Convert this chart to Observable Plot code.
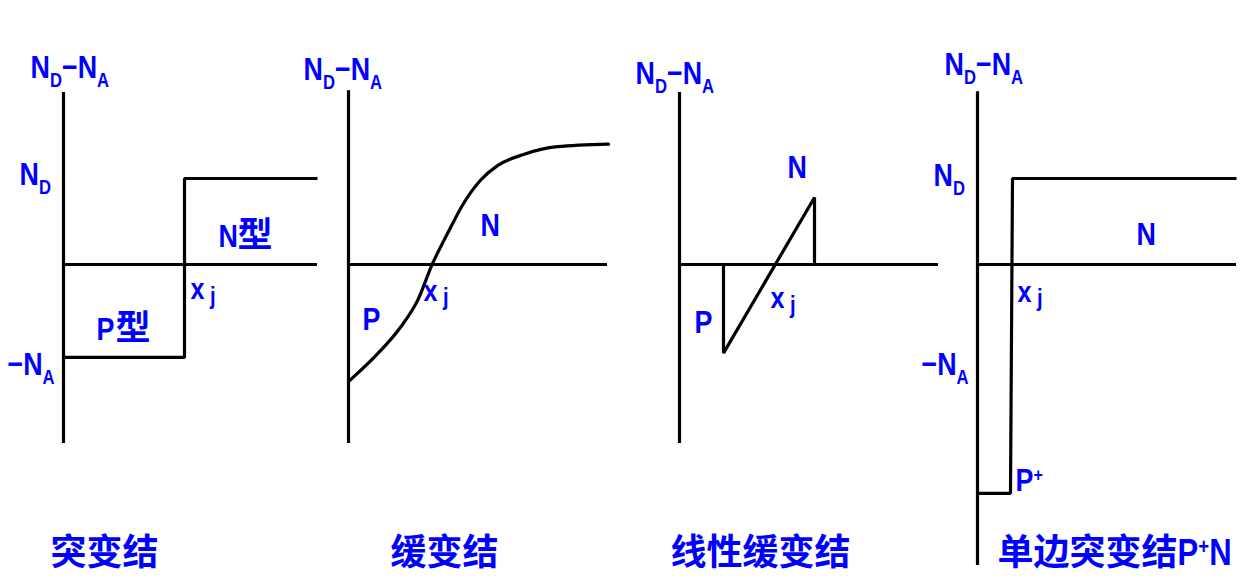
<!DOCTYPE html>
<html>
<head>
<meta charset="utf-8">
<script src="https://cdn.jsdelivr.net/npm/d3@7"></script>
<script src="https://cdn.jsdelivr.net/npm/@observablehq/plot@0.6"></script>
<style>
  html, body { margin: 0; padding: 0; background: #fff; }
  #chart { width: 1256px; height: 583px; }
  #chart text { font-family: "Liberation Sans", Arial, "Noto Sans CJK SC", sans-serif; }
  #chart text.cjk { font-family: "Noto Sans CJK SC", sans-serif; }
</style>
</head>
<body>
<div id="chart"></div>
<script>
// ---- Data (depth in arbitrary units, doping N_D - N_A in units of N_D) ----
const panelNames   = ["abrupt", "graded", "linear", "oneSided"];
const panelTitles  = ["突变结", "缓变结", "线性缓变结", "单边突变结"];
const panelOrigin  = [0.63, 3.48, 6.79, 9.77];   // depth origin of each panel
const axisTop      = [2.00, 2.02, 2.00, 2.01];
const axisBottom   = [-2.08, -2.08, -2.08, -3.50];
const zeroLength   = [2.54, 2.59, 2.59, 2.59];

// 突变结 (abrupt junction)
const abruptX = [0, 1.21, 1.21, 2.54];
const abruptY = [-1.08, -1.08, 1.00, 1.00];
// 缓变结 (graded junction)
const gradedX = [0.01, 0.29, 0.52, 0.69, 0.84, 0.99, 1.15, 1.32, 1.49, 1.75, 2.09, 2.60];
const gradedY = [-1.35, -1.04, -0.73, -0.42, 0.01, 0.36, 0.71, 0.98, 1.15, 1.28, 1.37, 1.40];
// 线性缓变结 (linearly graded junction)
const linearX = [0.44, 0.44, 1.35, 1.35];
const linearY = [0, -1.03, 0.78, 0];
// 单边突变结 P+N (one-sided abrupt junction)
const oneSidedX = [0, 0.33, 0.35, 2.59];
const oneSidedY = [-2.66, -2.66, 1.00, 1.00];

// Latin labels
const labelPanel = [0, 0, 0, 0, 0, 1, 1, 1, 2, 2, 2, 3, 3, 3, 3, 3];
const labelText  = ["N_{D}−N_{A}", "N_{D}", "−N_{A}", "N", "P",
                    "N_{D}−N_{A}", "N", "P",
                    "N_{D}−N_{A}", "N", "P",
                    "N_{D}−N_{A}", "N_{D}", "−N_{A}", "N", "P^{+}"];
const labelX     = [-0.33, -0.44, -0.56, 1.55, 0.33,
                    -0.45, 1.32, 0.14,
                    -0.44, 1.08, 0.15,
                    -0.33, -0.44, -0.56, 1.59, 0.38];
const labelY     = [2.17, 0.92, -1.29, 0.20, -0.88,
                    2.14, 0.33, -0.76,
                    2.10, 1.01, -0.80,
                    2.20, 0.91, -1.28, 0.23, -2.63];
// "型" (type) labels after N / P in panel 1
const typeText = ["型", "型"];
const typeX    = [1.74, 0.52];
const typeY    = [0.20, -0.88];
// x_j junction position labels
const xjX = [1.27, 0.75, 0.91, 0.40];
const xjY = [-0.40, -0.42, -0.51, -0.43];
const titleX = [-0.13, 0.42, -0.09, 0.20];
const titleY = -3.49;
// Latin suffix of the 4th title
const titleSuffix = "P^{+}N";
const titleSuffixX = 2.00;

// ---- Build tables ----
const axes = panelNames.map((p, i) => ({p, x: panelOrigin[i], y1: axisBottom[i], y2: axisTop[i], x2: panelOrigin[i] + zeroLength[i]}));
const profiles = [];
[[abruptX, abruptY], [gradedX, gradedY], [linearX, linearY], [oneSidedX, oneSidedY]].forEach(([xs, ys], i) => {
  xs.forEach((x, k) => profiles.push({p: panelNames[i], x: panelOrigin[i] + x, y: ys[k]}));
});
const labels = labelText.map((t, i) => ({t, x: panelOrigin[labelPanel[i]] + labelX[i], y: labelY[i]}));
const types = typeText.map((t, i) => ({t, x: panelOrigin[0] + typeX[i], y: typeY[i]}));
const xjs = xjX.map((x, i) => ({t: "x_{j}", x: panelOrigin[i] + x, y: xjY[i]}));
const titles = panelTitles.map((t, i) => ({t, x: panelOrigin[i] + titleX[i], y: titleY}));
const suffix = [{t: titleSuffix, x: panelOrigin[3] + titleSuffixX, y: titleY}];

const blue = "#0000ff";
const plot = Plot.plot({
  width: 1256,
  height: 583,
  margin: 0,
  x: {domain: [0, 12.56], axis: null},
  y: {domain: [-3.709, 3.070], axis: null},
  marks: [
    Plot.ruleX(axes, {x: "x", y1: "y1", y2: "y2", stroke: "black", strokeWidth: 3.2}),
    Plot.ruleY(axes, {y: 0, x1: "x", x2: "x2", stroke: "black", strokeWidth: 3.2}),
    Plot.line(profiles.filter(d => d.p !== "graded"), {x: "x", y: "y", z: "p", stroke: "black", strokeWidth: 3.2, strokeLinejoin: "miter", strokeLinecap: "butt"}),
    Plot.line(profiles.filter(d => d.p === "graded"), {x: "x", y: "y", stroke: "black", strokeWidth: 3.2, curve: "monotone-x"}),
    Plot.text(labels, {x: "x", y: "y", text: "t", fill: blue, fontSize: 32, fontWeight: "bold", textAnchor: "start", lineAnchor: "bottom", className: "narrow"}),
    Plot.text(xjs, {x: "x", y: "y", text: "t", fill: blue, fontSize: 30, fontWeight: "bold", textAnchor: "start", lineAnchor: "bottom", className: "narrow"}),
    Plot.text(types, {x: "x", y: "y", text: "t", fill: blue, fontSize: 35, fontWeight: "bold", textAnchor: "start", lineAnchor: "bottom", className: "cjk"}),
    Plot.text(titles, {x: "x", y: "y", text: "t", fill: blue, fontSize: 36, fontWeight: "bold", textAnchor: "start", lineAnchor: "bottom", className: "cjk"}),
    Plot.text(suffix, {x: "x", y: "y", text: "t", fill: blue, fontSize: 37, fontWeight: "bold", textAnchor: "start", lineAnchor: "bottom", className: "narrow"})
  ]
});
document.getElementById("chart").appendChild(plot);

// ---- Subscript / superscript markup: _{..} and ^{..}; narrow Latin lettering ----
plot.querySelectorAll("text").forEach(el => {
  const s = el.textContent;
  const narrow = !!el.closest(".narrow");
  if (narrow) {
    const tr = el.getAttribute("transform");
    if (tr && /translate/.test(tr)) {
      el.setAttribute("transform", tr + " scale(0.84,1)");
    } else {
      const x = +el.getAttribute("x") || 0, y = +el.getAttribute("y") || 0;
      el.removeAttribute("x"); el.removeAttribute("y");
      el.setAttribute("transform", `translate(${x},${y}) scale(0.84,1)`);
    }
  }
  if (!/[_^]\{/.test(s)) return;
  const fs = parseFloat(getComputedStyle(el).fontSize) || 32;
  const parts = s.split(/([_^]\{[^}]*\})/).filter(Boolean);
  el.textContent = "";
  let shift = 0;
  const isXj = s === "x_{j}";
  parts.forEach(part => {
    const ts = document.createElementNS("http://www.w3.org/2000/svg", "tspan");
    let target = 0;
    if (part.startsWith("_{")) {
      target = isXj ? 0.16 * fs : 0.28 * fs;
      ts.textContent = part.slice(2, -1);
      ts.setAttribute("font-size", (isXj ? 0.8 : 0.62) * fs);
      if (isXj) ts.setAttribute("dx", 0.22 * fs);
    } else if (part.startsWith("^{")) {
      target = -0.3 * fs;
      ts.textContent = part.slice(2, -1);
      ts.setAttribute("font-size", 0.6 * fs);
    } else {
      ts.textContent = part;
    }
    ts.setAttribute("dy", target - shift);
    shift = target;
    el.appendChild(ts);
  });
});
</script>
</body>
</html>
